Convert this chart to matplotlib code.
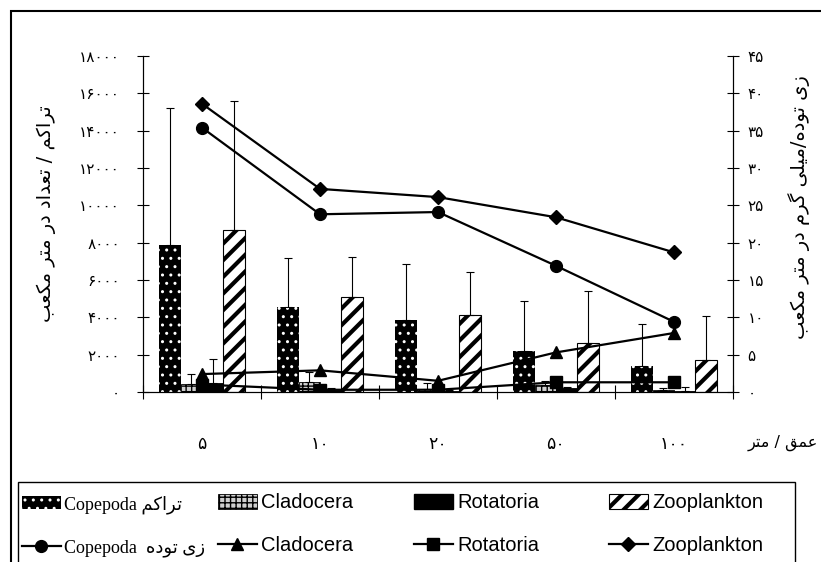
import matplotlib
matplotlib.use('Agg')
import matplotlib.pyplot as plt
import numpy as np
from matplotlib.font_manager import FontProperties, findfont, get_font
from matplotlib.patches import Rectangle, Patch
from matplotlib.lines import Line2D
from matplotlib.ticker import FuncFormatter, FixedLocator

# depth (m)
depths = [5, 10, 20, 50, 100]

# density, number per m3 (left axis)
cop_n = [7900, 4550, 3850, 2200, 1400]
cop_n_err = [7300, 2650, 3000, 2650, 2250]
clad_n = [430, 560, 150, 380, 120]
clad_n_err = [530, 500, 330, 220, 100]
rot_n = [480, 100, 50, 200, 50]
rot_n_err = [1300, 120, 80, 70, 200]
zoo_n = [8700, 5100, 4100, 2650, 1700]
zoo_n_err = [6900, 2150, 2350, 2750, 2350]

# biomass, mg per m3 (right axis)
cop_b = [35.4, 23.8, 24.1, 16.9, 9.4]
clad_b = [2.4, 2.9, 1.5, 5.3, 7.9]
rot_b = [1.0, 0.3, 0.3, 1.3, 1.3]
zoo_b = [38.6, 27.2, 26.1, 23.4, 18.7]

left_ticks = list(range(0, 18001, 2000))
right_ticks = list(range(0, 46, 5))

# --- minimal Persian shaping (matplotlib has no RTL / joining support) ---
FA_FONT = 'DejaVu Sans'
_cmap = get_font(findfont(FontProperties(family=FA_FONT))).get_charmap()
FORMS = {
    'ا': (0xFE8D, 0xFE8E),
    'ب': (0xFE8F, 0xFE90, 0xFE91, 0xFE92),
    'ت': (0xFE95, 0xFE96, 0xFE97, 0xFE98),
    'د': (0xFEA9, 0xFEAA),
    'ر': (0xFEAD, 0xFEAE),
    'ز': (0xFEAF, 0xFEB0),
    'ع': (0xFEC9, 0xFECA, 0xFECB, 0xFECC),
    'ق': (0xFED5, 0xFED6, 0xFED7, 0xFED8),
    'ل': (0xFEDD, 0xFEDE, 0xFEDF, 0xFEE0),
    'م': (0xFEE1, 0xFEE2, 0xFEE3, 0xFEE4),
    'ه': (0xFEE9, 0xFEEA, 0xFEEB, 0xFEEC),
    'و': (0xFEED, 0xFEEE),
    'ک': (0xFB8E, 0xFB8F, 0xFB90, 0xFB91),
    'گ': (0xFB92, 0xFB93, 0xFB94, 0xFB95),
    'ی': (0xFBFC, 0xFBFD, 0xFBFE, 0xFBFF),
}
BACKUP = {0xFB8E: 0xFED9, 0xFB8F: 0xFEDA, 0xFB90: 0xFEDB, 0xFB91: 0xFEDC,
          0xFB92: 0xFED9, 0xFB93: 0xFEDA, 0xFB94: 0xFEDB, 0xFB95: 0xFEDC,
          0xFBFC: 0xFEEF, 0xFBFD: 0xFEF0, 0xFBFE: 0xFEF3, 0xFBFF: 0xFEF4}


def fa(s):
    out = []
    for i, ch in enumerate(s):
        f = FORMS.get(ch)
        if f is None:
            out.append(ch)
            continue
        prev = s[i - 1] if i > 0 else ''
        nxt = s[i + 1] if i + 1 < len(s) else ''
        jp = len(FORMS.get(prev, ())) == 4
        jn = len(f) == 4 and nxt in FORMS
        code = f[int(jp) + 2 * int(jn)]
        if code not in _cmap:
            code = BACKUP.get(code, ord(ch))
        out.append(chr(code))
    return ''.join(reversed(out))


def fa_num(v):
    return str(int(v)).translate(str.maketrans('0123456789', '۰۱۲۳۴۵۶۷۸۹'))


def hatch_lw(bars, lw):
    for p in bars:
        if hasattr(p, 'set_hatch_linewidth'):
            p.set_hatch_linewidth(lw)


plt.rcParams['hatch.linewidth'] = 1.0
STRIPE_LW = 3.0

fig = plt.figure(figsize=(8.21, 5.62), dpi=100)
ax = fig.add_axes([0.1742, 0.3025, 0.7186, 0.5979])

x = np.arange(len(depths))
w = 0.182
ekw = dict(ecolor='black', elinewidth=0.8, capsize=3, capthick=0.8)
zeros = np.zeros(len(depths))

b1 = ax.bar(x - 1.5 * w, cop_n, w, color='black', edgecolor='white', hatch='..',
            linewidth=0, yerr=[zeros, cop_n_err], error_kw=ekw)
b2 = ax.bar(x - 0.5 * w, clad_n, w, color='#cfcfcf', edgecolor='black', hatch='+++',
            linewidth=0.6, yerr=[zeros, clad_n_err], error_kw=ekw)
b3 = ax.bar(x + 0.5 * w, rot_n, w, color='black', edgecolor='black',
            linewidth=0.6, yerr=[zeros, rot_n_err], error_kw=ekw)
with plt.rc_context({'hatch.linewidth': STRIPE_LW}):
    b4 = ax.bar(x + 1.5 * w, zoo_n, w, color='white', edgecolor='black', hatch='//',
                linewidth=0.8, yerr=[zeros, zoo_n_err], error_kw=ekw)
hatch_lw(b4, STRIPE_LW)

ax.set_xlim(-0.5, len(depths) - 0.5)
ax.set_ylim(0, 18000)
ax.set_yticks(left_ticks)
ax.yaxis.set_major_formatter(FuncFormatter(lambda v, p: fa_num(v)))
ax.set_xticks(x)
ax.set_xticklabels([fa_num(d) for d in depths])
ax.xaxis.set_minor_locator(FixedLocator(np.arange(-0.5, len(depths), 1.0)))
ax.tick_params(axis='x', which='major', length=0, pad=31, labelsize=12.5)
ax.tick_params(axis='x', which='minor', direction='inout', length=10, width=0.8)
ax.tick_params(axis='y', direction='inout', length=9, width=0.8, pad=12, labelsize=11)
for lab in ax.get_xticklabels() + ax.get_yticklabels():
    lab.set_fontfamily(FA_FONT)
ax.spines['top'].set_visible(False)

ax2 = ax.twinx()
ax2.plot(x, cop_b, color='black', lw=1.6, marker='o', ms=8.5)
ax2.plot(x, clad_b, color='black', lw=1.6, marker='^', ms=8.5)
ax2.plot(x, rot_b, color='black', lw=1.6, marker='s', ms=8)
ax2.plot(x, zoo_b, color='black', lw=1.6, marker='D', ms=7.5)
ax2.set_ylim(0, 45)
ax2.set_yticks(right_ticks)
ax2.yaxis.set_major_formatter(FuncFormatter(lambda v, p: fa_num(v)))
ax2.tick_params(axis='y', direction='inout', length=9, width=0.8, pad=6, labelsize=11)
for lab in ax2.get_yticklabels():
    lab.set_fontfamily(FA_FONT)
ax2.spines['top'].set_visible(False)

ax.set_ylabel(fa('تراکم / تعداد در متر مکعب'), fontsize=14, fontfamily=FA_FONT)
ax.yaxis.set_label_coords(-0.148, 0.53)
ax2.set_ylabel(fa('زی توده/میلی گرم در متر مکعب'), fontsize=14, fontfamily=FA_FONT)
ax2.yaxis.set_label_coords(1.094, 0.55)
fig.text(783 / 821, 1 - 443 / 562, fa('عمق / متر'), fontsize=11.5, fontfamily=FA_FONT,
         ha='center', va='center')

# legend
h_cop = Patch(facecolor='black', edgecolor='white', hatch='..', linewidth=0)
h_clad = Patch(facecolor='#cfcfcf', edgecolor='black', hatch='+++', linewidth=0.6)
h_rot = Patch(facecolor='black', edgecolor='black')
h_zoo = Patch(facecolor='white', edgecolor='black', hatch='//', linewidth=0.8)
l_cop = Line2D([], [], color='black', lw=1.6, marker='o', ms=8.5)
l_clad = Line2D([], [], color='black', lw=1.6, marker='^', ms=8.5)
l_rot = Line2D([], [], color='black', lw=1.6, marker='s', ms=8)
l_zoo = Line2D([], [], color='black', lw=1.6, marker='D', ms=7.5)

serif_fa = ['Liberation Serif', 'DejaVu Sans']
narrow = ['Liberation Sans Narrow', 'Liberation Sans']
columns = [
    (22, [h_cop, l_cop], ['Copepoda ' + fa('تراکم'), 'Copepoda  ' + fa('زی توده')], serif_fa, 13, 1.0),
    (218, [h_clad, l_clad], ['Cladocera', 'Cladocera'], narrow, 14.5, 1.0),
    (414, [h_rot, l_rot], ['Rotatoria', 'Rotatoria'], narrow, 14.5, 1.0),
    (609, [h_zoo, l_zoo], ['Zooplankton', 'Zooplankton'], narrow, 14.5, STRIPE_LW),
]
for xpx, hs, labs, fam, fs, hlw in columns:
    ytop = 1 - (495 - (fs - 13)) / 562
    with plt.rc_context({'hatch.linewidth': hlw}):
        leg = fig.legend(hs, labs, loc='upper left', bbox_to_anchor=(xpx / 821, ytop),
                         frameon=False, fontsize=fs, handlelength=28 / fs, handletextpad=0.2,
                         labelspacing=(43 - 1.34 * fs) / (1.39 * fs), borderpad=0,
                         borderaxespad=0)
    hatch_lw(leg.get_patches(), hlw)
    for t in leg.get_texts():
        t.set_fontfamily(fam)

# frames
fig.add_artist(Rectangle((11 / 821, -0.1), 1.1, 1 - 11 / 562 + 0.1, transform=fig.transFigure,
                         fill=False, edgecolor='black', linewidth=1.5))
fig.add_artist(Rectangle((18 / 821, -0.1), (795 - 18) / 821, 1 - 482 / 562 + 0.1,
                         transform=fig.transFigure, fill=False, edgecolor='black', linewidth=1.0))

fig.savefig('out.png', dpi=100)
